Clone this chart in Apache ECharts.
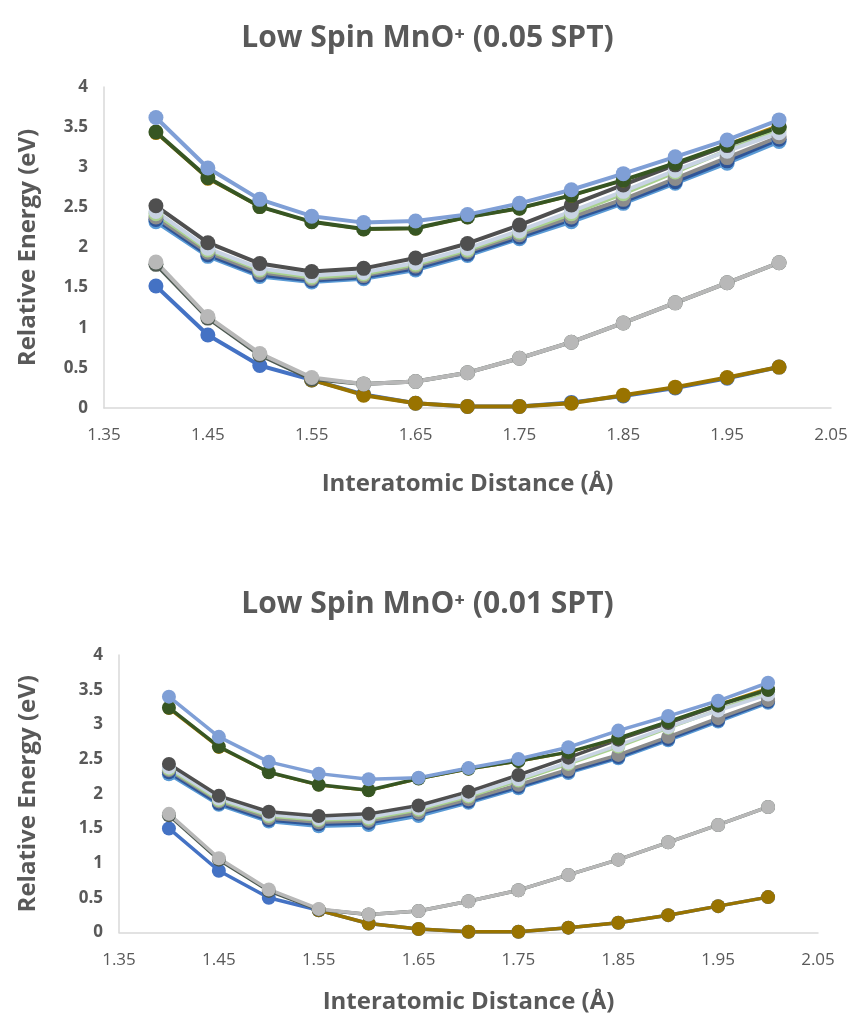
<!DOCTYPE html>
<html>
<head>
<meta charset="utf-8">
<script src="https://cdn.jsdelivr.net/npm/echarts@6/dist/echarts.min.js"></script>
<style>
  html, body { margin: 0; padding: 0; background: #ffffff; }
  #chart { width: 855px; height: 1021px; }
</style>
</head>
<body>
<div id="chart"></div>
<script>
// ---------- data ----------
const distances = [1.40, 1.45, 1.50, 1.55, 1.60, 1.65, 1.70, 1.75, 1.80, 1.85, 1.90, 1.95, 2.00];
const xTickLabels = [1.35, 1.45, 1.55, 1.65, 1.75, 1.85, 1.95, 2.05];
const titles = ['Low Spin MnO\u207A (0.05 SPT)', 'Low Spin MnO\u207A (0.01 SPT)'];

// Chart 1 (0.05 SPT)
const c1MidLightBlue = [2.32, 1.89, 1.64, 1.57, 1.61, 1.72, 1.90, 2.11, 2.32, 2.55, 2.80, 3.05, 3.32];
const c1MidBlue      = [2.35, 1.91, 1.66, 1.59, 1.63, 1.74, 1.92, 2.13, 2.35, 2.57, 2.82, 3.08, 3.35];
const c1MidGrey      = [2.38, 1.94, 1.69, 1.61, 1.65, 1.77, 1.95, 2.16, 2.38, 2.60, 2.86, 3.12, 3.38];
const c1MidGreen     = [2.42, 1.97, 1.72, 1.63, 1.67, 1.79, 1.97, 2.19, 2.42, 2.67, 2.94, 3.21, 3.47];
const c1MidPale      = [2.45, 1.99, 1.74, 1.65, 1.69, 1.81, 1.99, 2.21, 2.45, 2.70, 2.96, 3.20, 3.43];
const c1MidDark      = [2.52, 2.06, 1.80, 1.70, 1.74, 1.87, 2.05, 2.28, 2.53, 2.78, 3.03, 3.27, 3.51];
const c1TopBrown     = [3.42, 2.85, 2.50, 2.31, 2.22, 2.23, 2.37, 2.48, 2.64, 2.83, 3.05, 3.29, 3.53];
const c1TopGreen     = [3.44, 2.87, 2.51, 2.32, 2.23, 2.24, 2.38, 2.49, 2.65, 2.84, 3.05, 3.28, 3.50];
const c1TopBlue      = [3.62, 2.99, 2.60, 2.39, 2.31, 2.33, 2.41, 2.55, 2.72, 2.92, 3.13, 3.34, 3.59];
const c1LowBlue      = [1.52, 0.91, 0.53, 0.35, 0.17, 0.06, 0.02, 0.02, 0.07, 0.15, 0.25, 0.37, 0.51];
const c1LowGold      = [null, null, null, 0.35, 0.16, 0.06, 0.02, 0.02, 0.06, 0.16, 0.26, 0.38, 0.51];
const c1LowDark      = [1.79, 1.12, 0.66, 0.36, 0.30, 0.33, 0.44, 0.62, 0.82, 1.06, 1.31, 1.56, 1.81];
const c1LowGrey      = [1.82, 1.14, 0.68, 0.38, 0.30, 0.33, 0.44, 0.62, 0.82, 1.06, 1.31, 1.56, 1.81];

// Chart 2 (0.01 SPT)
const c2MidLightBlue = [2.28, 1.84, 1.60, 1.53, 1.55, 1.68, 1.87, 2.08, 2.30, 2.51, 2.77, 3.04, 3.31];
const c2MidBlue      = [2.31, 1.86, 1.62, 1.56, 1.58, 1.71, 1.89, 2.10, 2.32, 2.53, 2.79, 3.06, 3.33];
const c2MidGrey      = [2.34, 1.89, 1.65, 1.59, 1.61, 1.73, 1.92, 2.13, 2.35, 2.56, 2.82, 3.09, 3.35];
const c2MidGreen     = [2.36, 1.91, 1.68, 1.62, 1.64, 1.77, 1.96, 2.19, 2.43, 2.68, 2.95, 3.21, 3.46];
const c2MidPale      = [2.38, 1.93, 1.70, 1.64, 1.66, 1.79, 1.98, 2.21, 2.45, 2.70, 2.96, 3.20, 3.43];
const c2MidDark      = [2.43, 1.97, 1.74, 1.68, 1.71, 1.83, 2.03, 2.27, 2.52, 2.78, 3.02, 3.27, 3.50];
const c2TopBrown     = [3.22, 2.66, 2.30, 2.12, 2.04, 2.21, 2.35, 2.46, 2.59, 2.79, 3.04, 3.29, 3.53];
const c2TopGreen     = [3.24, 2.68, 2.31, 2.13, 2.05, 2.22, 2.36, 2.47, 2.60, 2.80, 3.04, 3.28, 3.50];
const c2TopBlue      = [3.40, 2.82, 2.46, 2.29, 2.21, 2.23, 2.37, 2.50, 2.67, 2.91, 3.12, 3.34, 3.60];
const c2LowBlue      = [1.50, 0.89, 0.50, 0.32, 0.13, 0.05, 0.01, 0.01, 0.07, 0.14, 0.25, 0.38, 0.51];
const c2LowGold      = [null, null, null, 0.32, 0.13, 0.05, 0.01, 0.01, 0.07, 0.14, 0.25, 0.38, 0.51];
const c2LowDark      = [1.69, 1.05, 0.60, 0.33, 0.26, 0.31, 0.45, 0.61, 0.83, 1.05, 1.30, 1.55, 1.81];
const c2LowGrey      = [1.71, 1.07, 0.62, 0.34, 0.26, 0.31, 0.45, 0.61, 0.83, 1.05, 1.30, 1.55, 1.81];

// ---------- styling / build ----------
const FONT = 'Open Sans';
const TXT = '#595959';

function pairs(vals) { return distances.map((d, i) => [d, vals[i]]); }

function mk(name, vals, color, gi, lw, sz) {
  return {
    name: name, type: 'line', xAxisIndex: gi, yAxisIndex: gi,
    data: pairs(vals), symbol: 'circle', symbolSize: sz,
    showSymbol: true, connectNulls: false, animation: false,
    lineStyle: { color: color, width: lw },
    itemStyle: { color: color },
    z: 2
  };
}

function chartSeries(gi, d, lw, sz) {
  return [
    mk('mid1', d.midLightBlue, '#5B9BD5', gi, lw, sz),
    mk('mid2', d.midBlue, '#2F5597', gi, lw, sz),
    mk('mid3', d.midGrey, '#8C8C8C', gi, lw, sz),
    mk('mid4', d.midGreen, '#A9D18E', gi, lw, sz),
    mk('mid5', d.midPale, '#C8D3E3', gi, lw, sz),
    mk('mid6', d.midDark, '#4F4F4F', gi, lw, sz),
    mk('top0', d.topBrown, '#B8860B', gi, 2, sz - 2),
    mk('top1', d.topGreen, '#375623', gi, lw, sz),
    mk('top2', d.topBlue, '#7F9FD6', gi, lw, sz),
    mk('low1', d.lowBlue, '#4472C4', gi, lw, sz),
    mk('low2', d.lowGold, '#997300', gi, lw, sz),
    mk('low3', d.lowDark, '#4E5A52', gi, lw, sz),
    mk('low4', d.lowGrey, '#B8B8B8', gi, lw, sz)
  ];
}

const data1 = { midLightBlue: c1MidLightBlue, midBlue: c1MidBlue, midGrey: c1MidGrey, midGreen: c1MidGreen,
  midPale: c1MidPale, midDark: c1MidDark, topBrown: c1TopBrown, topGreen: c1TopGreen, topBlue: c1TopBlue,
  lowBlue: c1LowBlue, lowGold: c1LowGold, lowDark: c1LowDark, lowGrey: c1LowGrey };
const data2 = { midLightBlue: c2MidLightBlue, midBlue: c2MidBlue, midGrey: c2MidGrey, midGreen: c2MidGreen,
  midPale: c2MidPale, midDark: c2MidDark, topBrown: c2TopBrown, topGreen: c2TopGreen, topBlue: c2TopBlue,
  lowBlue: c2LowBlue, lowGold: c2LowGold, lowDark: c2LowDark, lowGrey: c2LowGrey };

function xAxis(gi, gap) {
  return {
    gridIndex: gi, type: 'value', min: 1.35, max: 2.05,
    name: 'Interatomic Distance (\u00C5)', nameLocation: 'middle', nameGap: gap,
    nameTextStyle: { fontFamily: FONT, fontSize: 24, fontWeight: 'bold', color: TXT },
    axisLine: { show: true, onZero: false, lineStyle: { color: '#D9D9D9', width: 1.5 } },
    axisTick: { show: false, customValues: xTickLabels },
    splitLine: { show: false },
    axisLabel: { customValues: xTickLabels, fontFamily: FONT, fontSize: 17, color: TXT, margin: 19,
      formatter: v => v.toFixed(2) }
  };
}
function yAxis(gi, gap) {
  return {
    gridIndex: gi, type: 'value', min: 0, max: 4, interval: 0.5,
    name: 'Relative Energy (eV)', nameLocation: 'middle', nameGap: gap, nameRotate: 90,
    nameTextStyle: { fontFamily: FONT, fontSize: 24, fontWeight: 'bold', color: TXT },
    axisLine: { show: true, lineStyle: { color: '#D9D9D9', width: 1.5 } },
    axisTick: { show: false },
    splitLine: { show: false },
    axisLabel: { fontFamily: FONT, fontSize: 17, fontWeight: 'bold', color: TXT, margin: 16 }
  };
}

const option = {
  backgroundColor: '#ffffff',
  animation: false,
  title: [
    { text: titles[0], left: 'center', top: 18,
      textStyle: { fontFamily: FONT, fontSize: 30, fontWeight: 'bold', color: TXT } },
    { text: titles[1], left: 'center', top: 584,
      textStyle: { fontFamily: FONT, fontSize: 30, fontWeight: 'bold', color: TXT } }
  ],
  grid: [
    { left: 104, right: 24, top: 87, height: 321 },
    { left: 119, right: 37, top: 655, height: 277.5 }
  ],
  xAxis: [xAxis(0, 64), xAxis(1, 58)],
  yAxis: [yAxis(0, 64), yAxis(1, 79)],
  series: chartSeries(0, data1, 4, 15).concat(chartSeries(1, data2, 3.5, 14))
};

const chart = echarts.init(document.getElementById('chart'), null, { renderer: 'canvas' });
chart.setOption(option);
</script>
</body>
</html>
